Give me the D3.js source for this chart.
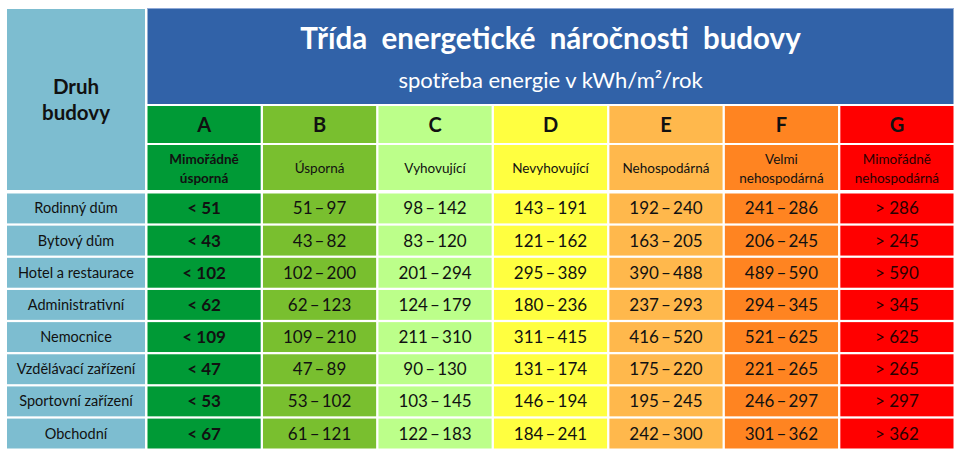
<!DOCTYPE html>
<html>
<head>
<meta charset="utf-8">
<script src="https://cdn.jsdelivr.net/npm/d3@7"></script>
<style>
  body { margin: 0; background: #fff; }
  svg text { font-family: Lato, "Open Sans", sans-serif; white-space: pre; }
</style>
</head>
<body>
<div class="chart"></div>
<script>
// energy class table: building type x class A..G, limits in kWh/m2/rok
var classes = ['A', 'B', 'C', 'D', 'E', 'F', 'G']
var classNames = [
  ['Mimořádně', 'úsporná'],
  ['Úsporná'],
  ['Vyhovující'],
  ['Nevyhovující'],
  ['Nehospodárná'],
  ['Velmi', 'nehospodárná'],
  ['Mimořádně', 'nehospodárná']
]
var classColors = ['#009A36', '#79BF2F', '#BCFF8A', '#FFFF40', '#FFB84C', '#FF8421', '#FF0000']

var buildings = ['Rodinný dům', 'Bytový dům', 'Hotel a restaurace', 'Administrativní',
  'Nemocnice', 'Vzdělávací zařízení', 'Sportovní zařízení', 'Obchodní']
// class A upper bound (shown as "< x")
var limitA = [51, 43, 102, 62, 109, 47, 53, 67]
// B..F ranges [from, to]
var rangesBF = [
  [[51, 97], [98, 142], [143, 191], [192, 240], [241, 286]],
  [[43, 82], [83, 120], [121, 162], [163, 205], [206, 245]],
  [[102, 200], [201, 294], [295, 389], [390, 488], [489, 590]],
  [[62, 123], [124, 179], [180, 236], [237, 293], [294, 345]],
  [[109, 210], [211, 310], [311, 415], [416, 520], [521, 625]],
  [[47, 89], [90, 130], [131, 174], [175, 220], [221, 265]],
  [[53, 102], [103, 145], [146, 194], [195, 245], [246, 297]],
  [[61, 121], [122, 183], [184, 241], [242, 300], [301, 362]]
]
// class G lower bound (shown as "> x")
var limitG = [286, 245, 590, 345, 625, 265, 297, 362]

var W = 960, H = 458
var svg = d3.select('.chart').append('svg').attr('width', W).attr('height', H)

// ---- layout scales ----
var x = d3.scaleBand().domain(classes).range([147.5, 953.5]).paddingInner(0.02)
var y = d3.scaleBand().domain(buildings).range([193.5, 448.5]).paddingInner(0.07)
var col0 = {x0: 7, x1: 145}
var hdr = {top: 9, titleBot: 104, letterTop: 106, letterBot: 143, nameTop: 145, nameBot: 190}

// ---- header: Druh budovy ----
svg.append('rect').attr('x', col0.x0).attr('y', hdr.top)
  .attr('width', col0.x1 - col0.x0).attr('height', hdr.nameBot - hdr.top).attr('fill', '#7DBDD0')
svg.append('text').attr('x', (col0.x0 + col0.x1) / 2).attr('y', 94)
  .attr('text-anchor', 'middle').attr('font-size', 20.5).attr('font-weight', 700).attr('fill', '#111')
  .text('Druh')
svg.append('text').attr('x', (col0.x0 + col0.x1) / 2).attr('y', 120)
  .attr('text-anchor', 'middle').attr('font-size', 20.5).attr('font-weight', 700).attr('fill', '#111')
  .text('budovy')

// ---- header: title block ----
var tx0 = x('A'), tx1 = x('G') + x.bandwidth()
svg.append('rect').attr('x', tx0).attr('y', hdr.top - 1)
  .attr('width', tx1 - tx0).attr('height', hdr.titleBot - hdr.top + 1).attr('fill', '#3162A8')
svg.append('line').attr('x1', tx0).attr('x2', tx1).attr('y1', 8.5).attr('y2', 8.5)
  .attr('stroke', '#8EA8D6').attr('stroke-width', 1)
svg.append('text').attr('x', (tx0 + tx1) / 2).attr('y', 49)
  .attr('text-anchor', 'middle').attr('font-size', 29.5).attr('font-weight', 700).attr('fill', '#fff')
  .text('Třída  energetické  náročnosti  budovy')
svg.append('text').attr('x', (tx0 + tx1) / 2).attr('y', 88)
  .attr('text-anchor', 'middle').attr('font-size', 22).attr('fill', '#fff')
  .text('spotřeba energie v kWh/m²/rok')

// ---- class letters + names ----
var cls = svg.selectAll('g.cls').data(classes).enter().append('g').attr('class', 'cls')
cls.append('rect').attr('x', function(d){ return x(d) }).attr('y', hdr.letterTop)
  .attr('width', x.bandwidth()).attr('height', hdr.letterBot - hdr.letterTop)
  .attr('fill', function(d, i){ return classColors[i] })
cls.append('rect').attr('x', function(d){ return x(d) }).attr('y', hdr.nameTop)
  .attr('width', x.bandwidth()).attr('height', hdr.nameBot - hdr.nameTop)
  .attr('fill', function(d, i){ return classColors[i] })
cls.append('text').attr('x', function(d){ return x(d) + x.bandwidth() / 2 }).attr('y', 132)
  .attr('text-anchor', 'middle').attr('font-size', 20).attr('font-weight', 700).attr('fill', '#111')
  .text(function(d){ return d })
cls.each(function(d, i){
  var lines = classNames[i]
  var g = d3.select(this)
  var cy = lines.length == 1 ? [173] : [164, 183]
  lines.forEach(function(t, j){
    g.append('text').attr('x', x(d) + x.bandwidth() / 2).attr('y', cy[j])
      .attr('text-anchor', 'middle').attr('font-size', 13.5)
      .attr('font-weight', i == 0 ? 700 : 400)
      .attr('fill', i == 6 ? '#2a0000' : '#111')
      .text(t)
  })
})

// ---- data rows ----
function cellText(r, c){
  if (c == 0) return '< ' + limitA[r]
  if (c == 6) return '> ' + limitG[r]
  var p = rangesBF[r][c - 1]
  return p[0] + '\u2009–\u2009' + p[1]
}

var rowsSel = svg.selectAll('g.row').data(buildings).enter().append('g').attr('class', 'row')
rowsSel.append('rect').attr('x', col0.x0).attr('y', function(d){ return y(d) })
  .attr('width', col0.x1 - col0.x0).attr('height', y.bandwidth()).attr('fill', '#7DBDD0')
rowsSel.append('text').attr('x', (col0.x0 + col0.x1) / 2)
  .attr('y', function(d){ return y(d) + y.bandwidth() / 2 + 5 })
  .attr('text-anchor', 'middle').attr('font-size', 14.5).attr('fill', '#111')
  .text(function(d){ return d })

rowsSel.each(function(b, r){
  var g = d3.select(this)
  classes.forEach(function(c, ci){
    g.append('rect').attr('x', x(c)).attr('y', y(b))
      .attr('width', x.bandwidth()).attr('height', y.bandwidth()).attr('fill', classColors[ci])
    g.append('text').attr('x', x(c) + x.bandwidth() / 2).attr('y', y(b) + y.bandwidth() / 2 + 6)
      .attr('text-anchor', 'middle').attr('font-size', 17)
      .attr('font-weight', ci == 0 ? 700 : 400)
      .attr('fill', ci == 6 ? '#2a0000' : '#111')
      .text(cellText(r, ci))
  })
})
</script>
</body>
</html>
